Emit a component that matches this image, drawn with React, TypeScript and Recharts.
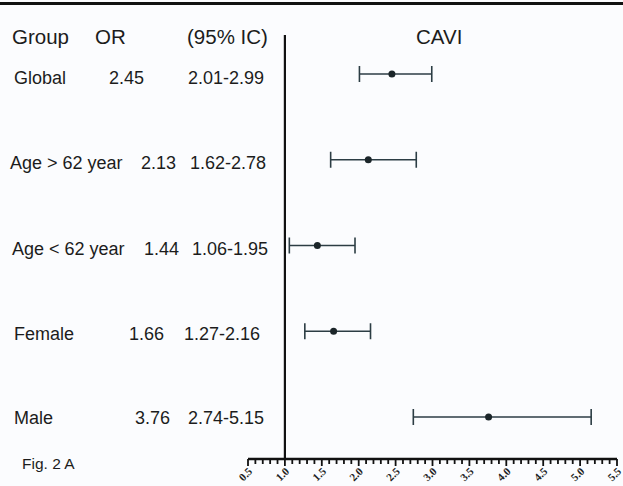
import type { FC } from 'react';
import { ErrorBar, ReferenceLine, Scatter, ScatterChart, XAxis, YAxis } from 'recharts';

const groups = ['Global', 'Age > 62 year', 'Age < 62 year', 'Female', 'Male'];
const oddsRatios = [2.45, 2.13, 1.44, 1.66, 3.76];
const ciLow = [2.01, 1.62, 1.06, 1.27, 2.74];
const ciHigh = [2.99, 2.78, 1.95, 2.16, 5.15];
const orLabels = ['2.45', '2.13', '1.44', '1.66', '3.76'];
const ciLabels = ['2.01-2.99', '1.62-2.78', '1.06-1.95', '1.27-2.16', '2.74-5.15'];
const majorTicks = [0.5, 1.0, 1.5, 2.0, 2.5, 3.0, 3.5, 4.0, 4.5, 5.0, 5.5];

// minor ticks every 0.1 between the labelled ones
const allTicks = majorTicks.flatMap((t, i) =>
  i === majorTicks.length - 1 ? [t] : [0, 1, 2, 3, 4].map((k) => Math.round((t + k * 0.1) * 10) / 10),
);

const W = 623;
const H = 486;
const INK = '#1c1c1c';
const BAR = '#2c3d44';

// text column x positions per row (label, OR, CI) and baselines
const labelX = [14, 10, 12, 14, 14];
const orX = [109, 141, 144, 129, 135];
const ciX = [188, 190, 192, 184, 188];
const baselines = [84, 169, 255, 340, 424];

const chartData = groups.map((g, i) => ({
  name: g,
  x: oddsRatios[i],
  y: i,
  err: [oddsRatios[i] - ciLow[i], ciHigh[i] - oddsRatios[i]],
}));

const AxisTick = (props: any) => {
  const { x, y, payload } = props;
  const v: number = payload.value;
  const major = majorTicks.some((t) => Math.abs(t - v) < 1e-6);
  const tx = x + 5;
  const ty = y + 13;
  return (
    <g>
      <line x1={x} x2={x} y1={y} y2={y + (major ? 7 : 5)} stroke="#111" strokeWidth={1.8} />
      {major && (
        <text
          x={tx}
          y={ty}
          textAnchor="end"
          transform={`rotate(-45 ${tx} ${ty})`}
          fontFamily="'Liberation Serif', 'DejaVu Serif', serif"
          fontWeight="bold"
          fontSize={11}
          fill="#222"
        >
          {v.toFixed(1)}
        </text>
      )}
    </g>
  );
};

const Dot = (props: any) => {
  const { cx, cy } = props;
  return <circle cx={cx} cy={cy} r={3.5} fill="#1b2529" />;
};

const App: FC = () => {
  const font = "'Liberation Sans', Arial, sans-serif";
  return (
    <div style={{ position: 'absolute', left: 0, top: 0, width: W, height: H, background: '#fbfcfe' }}>
      <ScatterChart width={W} height={H} margin={{ top: 35, right: 6, bottom: 0, left: 248 }}>
        <XAxis
          type="number"
          dataKey="x"
          domain={[0.5, 5.5]}
          ticks={allTicks}
          interval={0}
          height={27}
          tickSize={0}
          tickMargin={0}
          tickLine={false}
          axisLine={{ stroke: '#111', strokeWidth: 2.5 }}
          tick={<AxisTick />}
          allowDecimals
        />
        <YAxis type="number" dataKey="y" domain={[-0.455, 4.49]} reversed hide />
        <ReferenceLine x={1} stroke="#111" strokeWidth={2.2} />
        <Scatter data={chartData} shape={<Dot />} isAnimationActive={false}>
          <ErrorBar dataKey="err" direction="x" width={8} stroke={BAR} strokeWidth={1.6} />
        </Scatter>
      </ScatterChart>
      <svg
        width={W}
        height={H}
        style={{ position: 'absolute', left: 0, top: 0, pointerEvents: 'none' }}
      >
        <rect x={0} y={2} width={W} height={3} fill="#111" />
        <g fontFamily={font} fontSize={20.5} fill={INK}>
          <text x={12} y={44}>Group</text>
          <text x={95} y={44}>OR</text>
          <text x={187} y={44}>(95% IC)</text>
          <text x={416} y={44}>CAVI</text>
        </g>
        <g fontFamily={font} fontSize={18} fill={INK}>
          {groups.map((g, i) => (
            <g key={g}>
              <text x={labelX[i]} y={baselines[i]}>{g}</text>
              <text x={orX[i]} y={baselines[i]}>{orLabels[i]}</text>
              <text x={ciX[i]} y={baselines[i]}>{ciLabels[i]}</text>
            </g>
          ))}
        </g>
        <text x={22} y={469} fontFamily={font} fontSize={15.5} fill={INK}>
          Fig. 2 A
        </text>
      </svg>
    </div>
  );
};

export default App;
